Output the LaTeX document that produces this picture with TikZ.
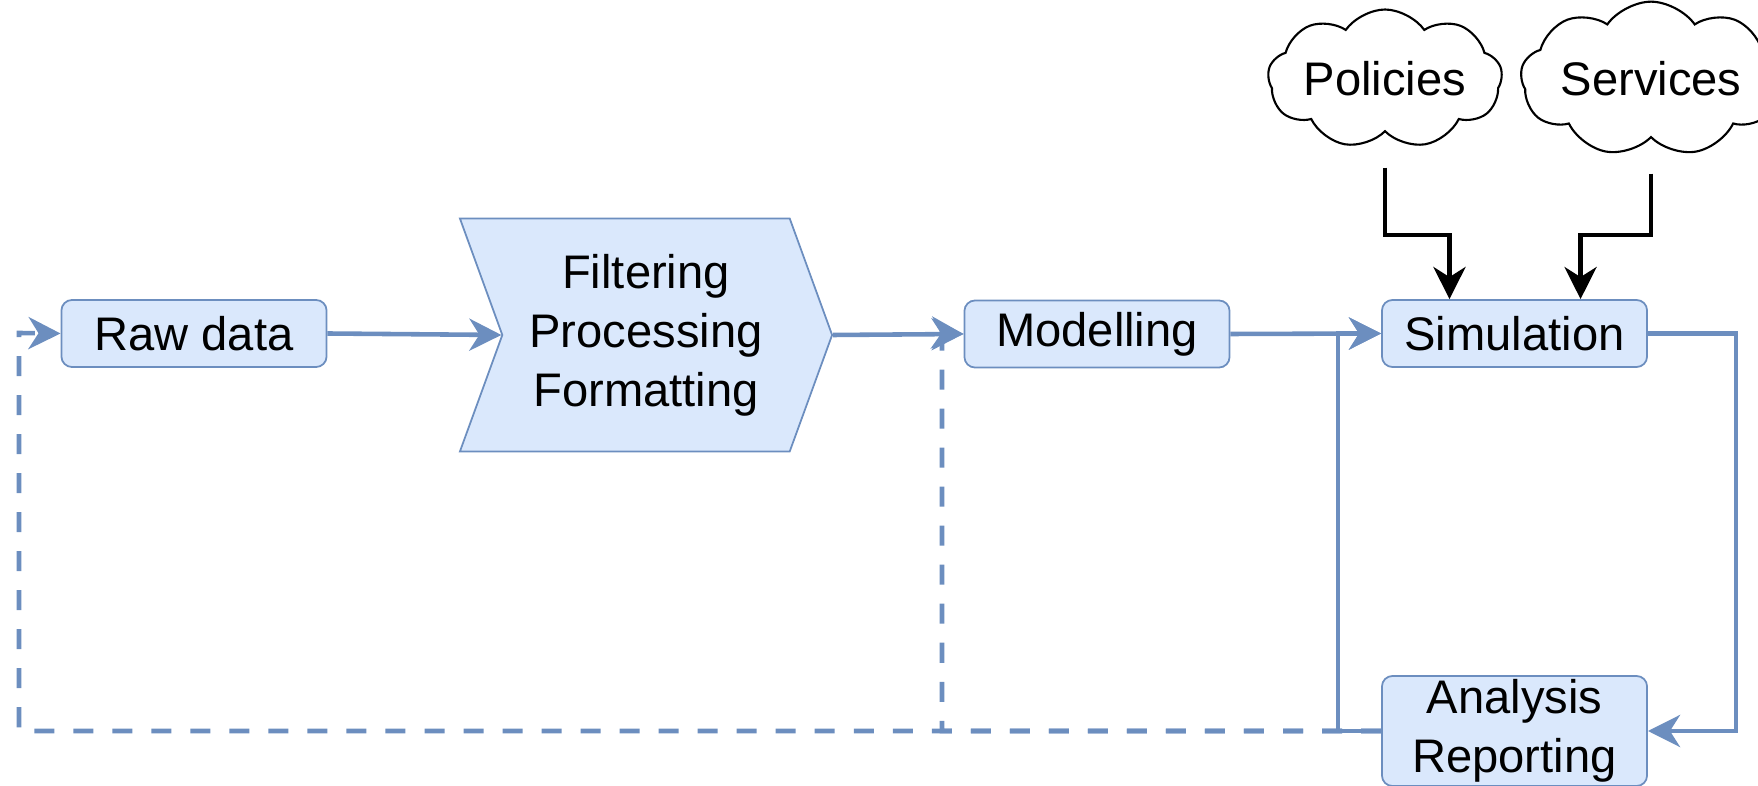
\documentclass[tikz,border=0pt]{standalone}
\usepackage{fontspec}
\setmainfont{Liberation Sans}
\usepackage{tikz}
\usetikzlibrary{arrows.meta,positioning,shapes.symbols}
\definecolor{edgec}{HTML}{6C8EBF}
\definecolor{boxbg}{HTML}{DAE8FC}
\tikzset{
  ar/.style={-{Stealth[length=3.2mm,width=3.2mm,inset=1mm]},line width=1.3pt,edgec},
  dar/.style={ar,dash pattern=on 2mm off 1.9mm},
  blk/.style={-{Stealth[length=3.2mm,width=3.2mm,inset=1mm]},line width=1.4pt,black},
  box/.style={draw=edgec,line width=0.5pt,rounded corners=3pt,fill=boxbg,align=center,minimum width=2.65cm,minimum height=0.67cm,inner sep=0pt},
  chevr/.style={signal,signal from=west,signal to=east,signal pointer angle=140,draw=edgec,line width=0.5pt,fill=boxbg,align=center,minimum width=3.72cm,minimum height=2.33cm,inner sep=0pt},
  cloudn/.style={cloud,cloud puffs=9,cloud puff arc=110,aspect=2.2,draw=black,fill=white,line width=0.6pt,minimum width=2.25cm,minimum height=1.1cm,inner sep=0pt}
}

\begin{document}
\begin{tikzpicture}[x=0.01cm,y=-0.01cm,font=\fontsize{13.4}{16.8}\selectfont]
\useasboundingbox (0,0) rectangle (1758,786);
\node[box] (raw) at (194,333.5) {Raw data};
\node[chevr] (chev) at (646,335) {Filtering\\Processing\\Formatting};
\node[box] (mod) at (1097,334) {Modelling};
\node[box] (sim) at (1514.5,333.5) {Simulation};
\node[box,minimum height=1.1cm] (ana) at (1514.5,731) {Analysis\\Reporting};
\node[cloudn] (pol) at (1385,79) {Policies};
\node[cloudn] (serv) at (1651,79) {Services};
\coordinate (lb) at (19,333);
\coordinate (mb) at (942,333);
\coordinate (jy) at (0,235);
% feedback, dashed
\draw[dar] (ana.west) -| (lb) -- (raw.west);
\draw[dar] (ana.west) -| (mb) -- (mod.west);
% main flow
\draw[ar] (raw.east) -- (chev.west);
\draw[ar] (chev.east) -- (mod.west);
\draw[ar] (mod.east) -- (sim.west);
\draw[ar] (sim.east) -- ++(88,0) |- (ana.east);
\draw[ar] (ana.west) -- ++(-43,0) |- (sim.west);
% inputs
\draw[blk] ([yshift=-0.35cm]pol.south) -- (pol.south |- jy) -| ([xshift=-0.65cm]sim.north);
\draw[blk] ([yshift=-0.35cm]serv.south) -- (serv.south |- jy) -| ([xshift=0.66cm]sim.north);
\end{tikzpicture}
\end{document}
